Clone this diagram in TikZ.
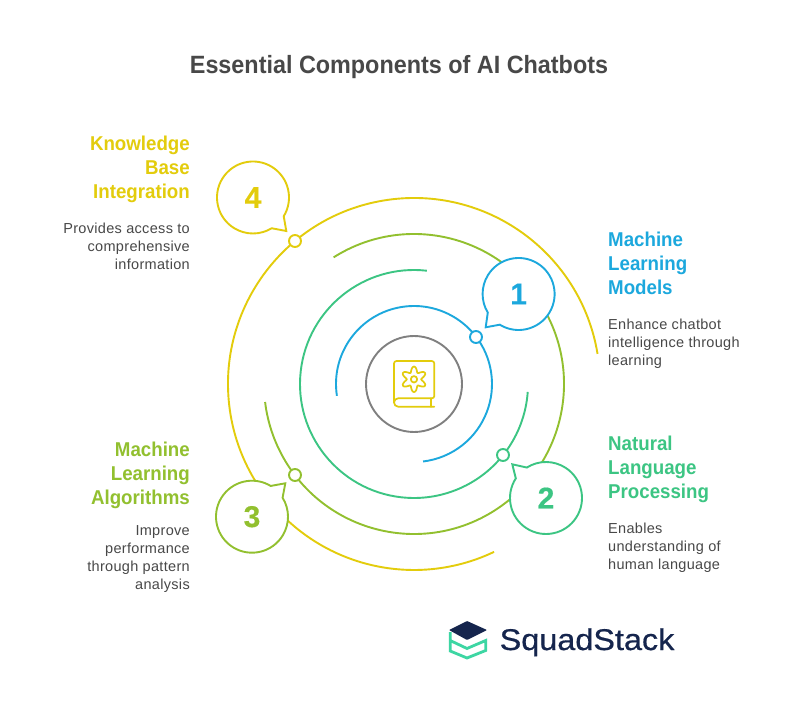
\documentclass[tikz,border=0pt]{standalone}
\usepackage{fontspec}
\setmainfont{Liberation Sans}[FakeStretch=0.935]
\newfontfamily\bodyfont{Liberation Sans}[LetterSpace=2.2]
\newfontfamily\numfont{Liberation Sans}[FakeBold=0.4,Weight=Bold,BoldFont={Liberation Sans Bold}]
\newfontfamily\logofont{Liberation Sans}[FakeStretch=1.08,FakeBold=0.6]
\definecolor{cblue}{HTML}{1CA8DD}
\definecolor{cgreen}{HTML}{3CC583}
\definecolor{colive}{HTML}{92C02F}
\definecolor{cyellow}{HTML}{E3CC0C}
\definecolor{cgrey}{HTML}{808080}
\definecolor{ctext}{HTML}{484848}
\definecolor{cnavy}{HTML}{15254D}
\definecolor{clogo}{HTML}{3DD6A3}
\tikzset{
 x=1pt,y=1pt,
 ring/.style={line width=1.9pt},
 bubble/.style={line width=1.9pt,draw=#1,fill=white,line join=miter},
 dot/.style={circle,draw,fill=white,line width=1.9pt,minimum size=12pt,inner sep=0pt},
 num/.style={font=\numfont\bfseries\fontsize{30}{30}\selectfont,inner sep=0pt},
 head/.style={font=\bfseries\fontsize{20}{24}\selectfont,inner sep=0pt},
 body/.style={font=\bodyfont\fontsize{14.5}{18}\selectfont,text=ctext,inner sep=0pt},
 L/.style={anchor=north east,align=right},
 R/.style={anchor=north west,align=left},
 iconline/.style={cyellow,line width=1.7pt,line join=round,line cap=round},
}
\begin{document}
\begin{tikzpicture}
\useasboundingbox (0,0) rectangle (798,-708);
\fill[white] (0,0) rectangle (798,-708);
\coordinate (c) at (414,-384);
\node[inner sep=0pt,font=\bfseries\fontsize{25}{30}\selectfont,text=ctext] (title) at (399,-67) {Essential Components of AI Chatbots};
% rings
\draw[ring,cyellow] ([shift={(9.3:186)}]c) arc[start angle=9.3,end angle=295.5,radius=186];
\draw[ring,colive] ([shift={(122.4:150)}]c) arc[start angle=122.4,end angle=-173.1,radius=150];
\draw[ring,cgreen] ([shift={(83.5:114)}]c) arc[start angle=83.5,end angle=356,radius=114];
\draw[ring,cblue] ([shift={(188.7:78)}]c) arc[start angle=188.7,end angle=-83.3,radius=78];
\node[circle,draw=cgrey,line width=1.9pt,minimum size=96pt,inner sep=0pt] (hub) at (c) {};
% icon
\draw[iconline] (394,-402.5) -- (394,-363.5) arc[start angle=180,end angle=90,radius=2.5] -- (431.8,-361) arc[start angle=90,end angle=0,radius=2.5] -- (434.3,-396) arc[start angle=0,end angle=-90,radius=2.3] -- (398.2,-398.3) arc[start angle=90,end angle=270,radius=4.2] -- (434.3,-406.7);
\draw[iconline] (430.7,-398.3) -- (430.7,-406.7);
\draw[iconline] (414,-379.3) circle[radius=3.2];
\draw[iconline,shift={(414,-379.3)}] plot[smooth cycle,domain=0:354,samples=60] ({(10+2.8*cos(6*(\x-90)))*cos(\x)},{(10+2.8*cos(6*(\x-90)))*sin(\x)});
% bubbles
\coordinate (b1) at (518.6,-294);
\coordinate (b2) at (546,-498);
\coordinate (b3) at (252,-516.7);
\coordinate (b4) at (253,-197.5);
\draw[bubble=cblue] ([shift={(211.1:36)}]b1) -- (485.7,-327.3) -- ([shift={(238.5:36)}]b1) arc[start angle=238.5,end angle=571.1,radius=36] -- cycle;
\draw[bubble=cgreen] ([shift={(122.2:36)}]b2) -- (512.3,-464.3) -- ([shift={(147:36)}]b2) arc[start angle=147,end angle=482.2,radius=36] -- cycle;
\draw[bubble=colive] ([shift={(31.8:36)}]b3) -- (285.3,-483.3) -- ([shift={(58.7:36)}]b3) arc[start angle=58.7,end angle=391.8,radius=36] -- cycle;
\draw[bubble=cyellow] ([shift={(-31.4:36)}]b4) arc[start angle=-31.4,end angle=301.3,radius=36] -- (286.3,-231) -- cycle;
\node[num,text=cblue] (n1) at (b1) {1};
\node[num,text=cgreen] (n2) at (b2) {2};
\node[num,text=colive] (n3) at (b3) {3};
\node[num,text=cyellow] (n4) at (b4) {4};
% dots
\node[dot,draw=cblue] (d1) at (476,-337) {};
\node[dot,draw=cgreen] (d2) at (503,-455) {};
\node[dot,draw=colive] (d3) at (295,-475) {};
\node[dot,draw=cyellow] (d4) at (295,-241) {};
% labels
\node[head,R,text=cblue] (h1) at (608,-232.2) {Machine\\Learning\\Models};
\node[body,R] (t1) at (608,-318.3) {Enhance chatbot\\intelligence through\\learning};
\node[head,R,text=cgreen] (h2) at (608,-436.2) {Natural\\Language\\Processing};
\node[body,R] (t2) at (608,-522.3) {Enables\\understanding of\\human language};
\node[head,L,text=colive] (h3) at (190,-442.2) {Machine\\Learning\\Algorithms};
\node[body,L] (t3) at (190,-525.3) {Improve\\performance\\through pattern\\analysis};
\node[head,L,text=cyellow] (h4) at (190,-136.2) {Knowledge\\Base\\Integration};
\node[body,L] (t4) at (190,-222.3) {Provides access to\\comprehensive\\information};
% logo
\fill[cnavy,rounded corners=0.6pt] (467,-621) -- (487,-630) -- (467,-640) -- (449,-630) -- cycle;
\draw[clogo,line width=2.8pt,line join=miter] (450.2,-632) -- (450.2,-651) -- (467,-658) -- (485.7,-650.5) -- (485.7,-640.5) -- (467,-648.5) -- (450.2,-640.5);
\node[anchor=base west,inner sep=0pt,text=cnavy,font=\logofont\fontsize{30}{30}\selectfont] (logo) at (499.5,-650) {SquadStack};
\end{tikzpicture}
\end{document}
